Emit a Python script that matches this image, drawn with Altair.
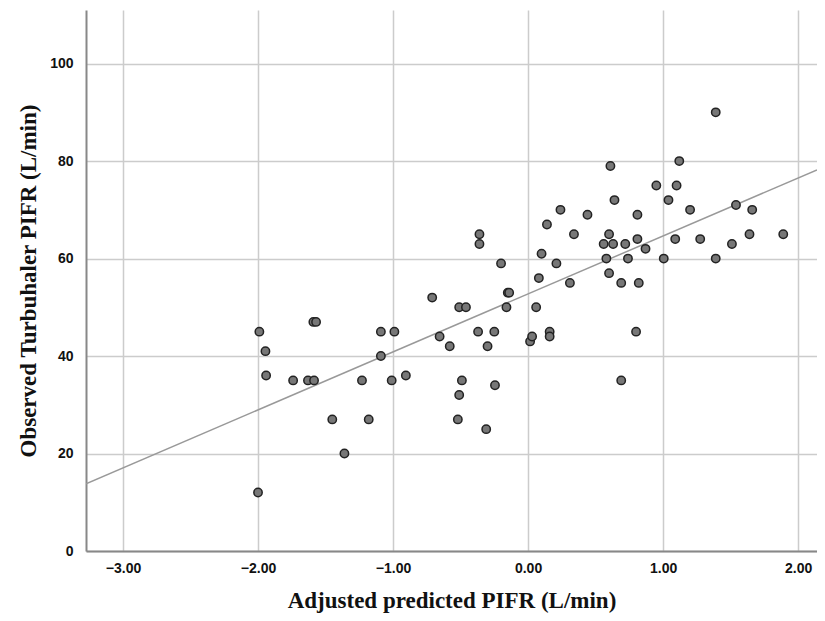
import altair as alt
import pandas as pd

# Scatter points (adjusted predicted PIFR, observed Turbuhaler PIFR)
pred = [-2.00, -1.99, -1.945, -1.94, -1.74, -1.63, -1.585, -1.59, -1.57, -1.45,
        -1.36, -1.23, -1.18, -1.09, -1.09, -0.99, -1.01, -0.905, -0.71, -0.655,
        -0.58, -0.51, -0.46, -0.49, -0.51, -0.52, -0.37, -0.25, -0.30, -0.31,
        -0.245, -0.15, -0.14, -0.16, -0.36, -0.36, -0.20, 0.015, 0.03, 0.16,
        0.16, 0.06, 0.08, 0.10, 0.14, 0.21, 0.24, 0.31, 0.34, 0.44,
        0.56, 0.58, 0.60, 0.60, 0.61, 0.63, 0.64, 0.69, 0.69, 0.72,
        0.74, 0.80, 0.81, 0.81, 0.82, 0.87, 0.95, 1.005, 1.04, 1.09,
        1.10, 1.12, 1.20, 1.275, 1.39, 1.39, 1.51, 1.54, 1.64, 1.66, 1.89]
obs = [12, 45, 41, 36, 35, 35, 35, 47, 47, 27,
       20, 35, 27, 45, 40, 45, 35, 36, 52, 44,
       42, 50, 50, 35, 32, 27, 45, 45, 42, 25,
       34, 53, 53, 50, 65, 63, 59, 43, 44, 45,
       44, 50, 56, 61, 67, 59, 70, 55, 65, 69,
       63, 60, 65, 57, 79, 63, 72, 55, 35, 63,
       60, 45, 69, 64, 55, 62, 75, 60, 72, 64,
       75, 80, 70, 64, 90, 60, 63, 71, 65, 70, 65]

# Fit line end points
line_x = [-3.274, 2.14]
line_y = [13.8, 78.2]

x_ticks = [-3, -2, -1, 0, 1, 2]
y_ticks = [0, 20, 40, 60, 80, 100]

pts = pd.DataFrame({"x": pred, "y": obs})
ln = pd.DataFrame({"x": line_x, "y": line_y})

xscale = alt.Scale(domain=[-3.274, 2.14], nice=False, zero=False)
yscale = alt.Scale(domain=[0, 111], nice=False)

xaxis = alt.Axis(
    title="Adjusted predicted PIFR (L/min)", values=x_ticks, format=".2f",
    grid=True, gridColor="#cccccc", gridWidth=1.5, ticks=False,
    domainColor="#888888", domainWidth=2,
    labelFont="Liberation Sans", labelFontWeight="bold", labelFontSize=14,
    labelColor="#111111", labelPadding=10,
    titleFont="Liberation Serif", titleFontWeight="bold", titleFontSize=23,
    titleColor="#111111", titlePadding=14,
)
yaxis = alt.Axis(
    title="Observed Turbuhaler PIFR (L/min)", values=y_ticks, format="d",
    grid=True, gridColor="#cccccc", gridWidth=1.5, ticks=False,
    domainColor="#888888", domainWidth=2,
    labelFont="Liberation Sans", labelFontWeight="bold", labelFontSize=14,
    labelColor="#111111", labelPadding=13,
    titleFont="Liberation Serif", titleFontWeight="bold", titleFontSize=23,
    titleColor="#111111", titlePadding=9,
)

line = alt.Chart(ln).mark_line(color="#999999", strokeWidth=1.5, clip=True).encode(
    x=alt.X("x:Q", scale=xscale, axis=xaxis),
    y=alt.Y("y:Q", scale=yscale, axis=yaxis),
)

points = alt.Chart(pts).mark_point(
    shape="circle", filled=True, size=70, fill="#777777", fillOpacity=1,
    stroke="#222222", strokeWidth=1.5, opacity=1,
).encode(
    x=alt.X("x:Q", scale=xscale),
    y=alt.Y("y:Q", scale=yscale),
)

chart = alt.layer(line, points).properties(
    width=731, height=541,
    autosize=alt.AutoSizeParams(type="none"),
    padding={"left": 78, "top": 2, "right": 0, "bottom": 74},
    background="white",
).configure_view(stroke=None)

chart.save("out.html", embed_options={"renderer": "svg", "actions": False})
